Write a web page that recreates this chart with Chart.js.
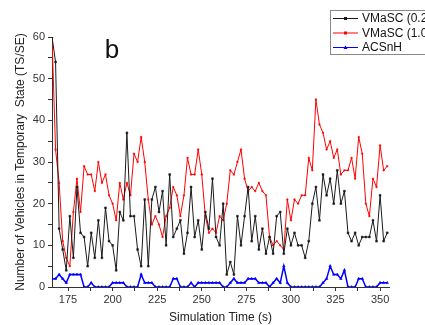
<!DOCTYPE html>
<html>
<head>
<meta charset="utf-8">
<script src="https://cdn.jsdelivr.net/npm/chart.js@4.4.0/dist/chart.umd.min.js"></script>
<style>
html, body { margin: 0; padding: 0; background: #fff; overflow: hidden; }
</style>
</head>
<body>
<canvas id="myLineChart" width="425" height="325"></canvas>
<script>
// simulation time (s)
var simTime = [166,168,170,172,174,176,178,180,182,184,186,188,190,192,194,196,198,200,202,204,
    206,208,210,212,214,216,218,220,222,224,226,228,230,232,234,236,238,240,242,244,
    246,248,250,252,254,256,258,260,262,264,266,268,270,272,274,276,278,280,282,284,
    286,288,290,292,294,296,298,300,302,304,306,308,310,312,314,316,318,320,322,324,
    326,328,330,332,334,336,338,340,342,344,346,348,350,352,354];

// VMaSC (0.2...) - black
var vmascLow = [60,54,14,9,4,17,7,24,13,12,
    5,13,7,16,7,19,11,10,4,18,
    16,37,17,17,9,5,21,5,21,24,
    18,23,10,27,12,14,16,8,13,24,
    12,16,9,18,14,26,12,10,20,3,
    6,3,17,10,17,24,11,17,9,14,
    8,12,8,17,18,8,14,10,13,10,
    10,7,11,20,24,16,27,22,26,20,
    28,20,23,13,11,13,10,12,12,12,
    16,11,22,11,13];

// VMaSC (1.0...) - red
var vmascHigh = [60,33,25,11,7,5,18,26,18,29,
    27,27,23,30,25,27,22,20,16,25,
    21,25,22,32,30,36,30,21,15,17,
    15,12,17,19,24,22,17,22,31,27,
    27,33,27,17,13,14,13,17,16,20,
    28,27,30,33,26,23,24,23,25,23,
    22,12,10,11,10,9,21,16,21,20,
    22,22,31,28,45,39,37,33,35,31,
    33,27,28,28,31,26,36,32,20,17,
    26,24,34,28,29];

// ACSnH - blue
var acsnh = [2,2,3,2,1,3,3,3,3,0,
    0,1,0,0,0,0,0,1,1,1,
    1,0,0,0,0,3,1,1,1,0,
    0,0,0,0,2,2,0,0,0,1,
    0,1,1,1,1,1,1,1,0,0,
    1,2,1,1,1,2,2,2,1,1,
    1,0,1,2,1,5,1,0,0,0,
    0,0,0,0,0,0,1,2,5,3,
    3,2,4,0,0,0,2,2,0,0,
    0,0,1,1,1];

var seriesLabels = ['VMaSC (0.2)', 'VMaSC (1.0)', 'ACSnH'];
var fontFamily = '"Liberation Sans", Arial, sans-serif';

function toPoints(xs, ys) {
    return xs.map(function(x, i) { return {x: x, y: ys[i]}; });
}

// legend box in the top right corner, runs off the canvas edge like the original
var boxLegend = {
    id: 'boxLegend',
    afterDraw: function(chart) {
        var ctx = chart.ctx;
        ctx.save();
        ctx.fillStyle = '#fff';
        ctx.strokeStyle = '#888';
        ctx.lineWidth = 1;
        ctx.fillRect(330.5, 10.5, 120, 44);
        ctx.strokeRect(330.5, 10.5, 120, 44);
        ctx.font = '12px ' + fontFamily;
        ctx.textBaseline = 'middle';
        chart.data.datasets.forEach(function(ds, i) {
            var y = 18.5 + i * 14.5;
            ctx.strokeStyle = ds.borderColor;
            ctx.lineWidth = 1;
            ctx.beginPath();
            ctx.moveTo(333, y);
            ctx.lineTo(358, y);
            ctx.stroke();
            ctx.fillStyle = ds.borderColor;
            if (ds.pointStyle === 'triangle') {
                ctx.beginPath();
                ctx.moveTo(345.5, y - 2);
                ctx.lineTo(347.5, y + 1.5);
                ctx.lineTo(343.5, y + 1.5);
                ctx.closePath();
                ctx.fill();
            } else {
                ctx.fillRect(344, y - 1.5, 3, 3);
            }
            ctx.fillStyle = '#111';
            ctx.fillText(ds.label, 362, y + 0.5);
        });
        // panel letter
        ctx.font = '26px ' + fontFamily;
        ctx.textAlign = 'center';
        ctx.fillStyle = '#111';
        ctx.fillText('b', 112, 51);
        ctx.restore();
    }
};

var ctx = document.getElementById('myLineChart').getContext('2d');
var myChart = new Chart(ctx, {
    type: 'line',
    data: {
        datasets: [
            {
                label: seriesLabels[0],
                data: toPoints(simTime, vmascLow),
                borderColor: '#1a1a1a',
                backgroundColor: '#1a1a1a',
                borderWidth: 1,
                pointStyle: 'rect',
                pointRadius: 1.3,
                pointBorderWidth: 0.5
            },
            {
                label: seriesLabels[1],
                data: toPoints(simTime, vmascHigh),
                borderColor: '#ff0000',
                backgroundColor: '#ff0000',
                borderWidth: 1,
                pointStyle: 'rect',
                pointRadius: 1,
                pointBorderWidth: 0.5
            },
            {
                label: seriesLabels[2],
                data: toPoints(simTime, acsnh),
                borderColor: '#0000ff',
                backgroundColor: '#0000ff',
                borderWidth: 1.5,
                pointStyle: 'triangle',
                pointRadius: 1.5,
                pointBorderWidth: 0.5
            }
        ]
    },
    options: {
        responsive: false,
        animation: false,
        devicePixelRatio: 1,
        layout: { padding: { left: 8, right: 36, top: 37, bottom: 0 } },
        elements: { line: { tension: 0 } },
        plugins: {
            legend: { display: false },
            tooltip: { enabled: false }
        },
        scales: {
            x: {
                type: 'linear',
                min: 166,
                max: 355,
                border: { color: '#333' },
                grid: { drawOnChartArea: false, tickLength: 4, color: '#333' },
                ticks: {
                    stepSize: 12.5,
                    includeBounds: false,
                    autoSkip: false,
                    maxRotation: 0,
                    padding: 2,
                    color: '#333',
                    font: { family: fontFamily, size: 11 },
                    callback: function(v) { return v % 25 === 0 ? v : ''; }
                },
                title: {
                    display: true,
                    text: 'Simulation Time (s)',
                    color: '#222',
                    font: { family: fontFamily, size: 12 },
                    padding: { top: 2, bottom: 0 }
                },
                afterFit: function(scale) { scale.height = 38; }
            },
            y: {
                min: 0,
                max: 60,
                border: { color: '#333' },
                grid: { drawOnChartArea: false, tickLength: 4, color: '#333' },
                ticks: {
                    stepSize: 5,
                    autoSkip: false,
                    padding: 3,
                    color: '#333',
                    font: { family: fontFamily, size: 11 },
                    callback: function(v) { return v % 10 === 0 ? v : ''; }
                },
                title: {
                    display: true,
                    text: 'Number of Vehicles in Temporary  State (TS/SE)',
                    color: '#222',
                    font: { family: fontFamily, size: 12 },
                    padding: { top: 5, bottom: 0 }
                },
                afterFit: function(scale) { scale.width = 44; }
            }
        }
    },
    plugins: [boxLegend]
});
</script>
</body>
</html>
